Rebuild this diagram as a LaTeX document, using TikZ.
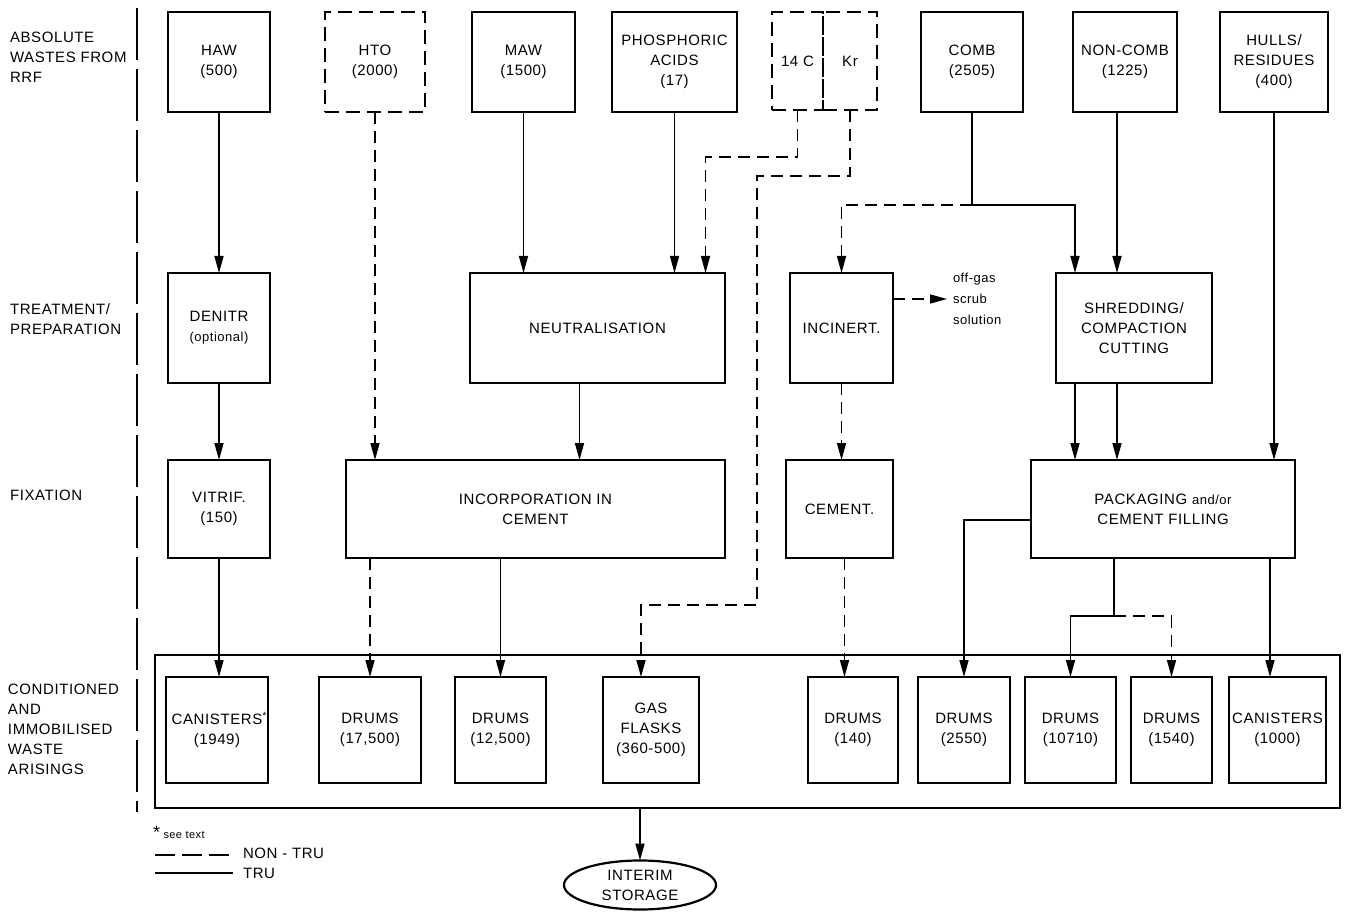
\documentclass[tikz,border=0pt]{standalone}
\usepackage{fontspec}
\setmainfont{Liberation Sans}[LetterSpace=4]
\usetikzlibrary{arrows.meta,shapes.geometric}

\begin{document}
\begin{tikzpicture}[x=1pt, y=-1pt, >={Triangle[length=17pt,width=9pt]},
    every node/.style={font=\fontsize{15}{20}\selectfont, inner sep=0pt, outer sep=0pt},
    box/.style={draw, line width=2.2pt, align=center},
    nbox/.style={box, dash pattern=on 14pt off 7pt},
    lbl/.style={anchor=west, align=left},
    tru/.style={line width=1.6pt},
    ntru/.style={line width=1.6pt, dash pattern=on 12pt off 7pt}]

    \useasboundingbox (0,0) rectangle (1347,912);

    % row labels
    \node[lbl] (labs) at (10,57) {ABSOLUTE\\WASTES FROM\\RRF};
    \node[lbl] (ltreat) at (10,319) {TREATMENT/\\PREPARATION};
    \node[lbl] (lfix) at (10,495) {FIXATION};
    \node[lbl] (lcond) at (8,729) {CONDITIONED\\AND\\IMMOBILISED\\WASTE\\ARISINGS};
    \draw[line width=2.5pt, dash pattern=on 52pt off 9pt] (137,8) -- (137,812);

    % absolute wastes
    \node[box, minimum width=102, minimum height=100] (haw) at (219,62) {HAW\\(500)};
    \node[nbox, minimum width=100, minimum height=100] (hto) at (375,62) {HTO\\(2000)};
    \node[box, minimum width=103, minimum height=100] (maw) at (523.5,62) {MAW\\(1500)};
    \node[box, minimum width=125, minimum height=100] (phos) at (674.5,62) {PHOSPHORIC\\ACIDS\\(17)};
    \node[nbox, minimum width=51, minimum height=98] (c14) at (797.5,61) {14 C};
    \node[nbox, minimum width=54, minimum height=98] (kr) at (850,61) {Kr};
    \node[box, minimum width=102, minimum height=100] (comb) at (972,62) {COMB\\(2505)};
    \node[box, minimum width=104, minimum height=100] (noncomb) at (1125,62) {NON-COMB\\(1225)};
    \node[box, minimum width=108, minimum height=100] (hulls) at (1274,62) {HULLS/\\RESIDUES\\(400)};

    % treatment
    \node[box, minimum width=102, minimum height=110] (denitr) at (219,328)
        {DENITR\\{\fontsize{13}{20}\selectfont(optional)}};
    \node[box, minimum width=255, minimum height=110] (neutr) at (597.5,328) {NEUTRALISATION};
    \node[box, minimum width=103, minimum height=110] (incin) at (841.5,328) {INCINERT.};
    \node[lbl, font=\fontsize{13}{21}\selectfont] (offgas) at (953,299) {off-gas\\scrub\\solution};
    \node[box, minimum width=156, minimum height=110] (shred) at (1134,328) {SHREDDING/\\COMPACTION\\CUTTING};

    % fixation
    \node[box, minimum width=102, minimum height=98] (vitrif) at (219,509) {VITRIF.\\(150)};
    \node[box, minimum width=379, minimum height=98] (incorp) at (535.5,509) {INCORPORATION IN\\CEMENT};
    \node[box, minimum width=107, minimum height=98] (cement) at (839.5,509) {CEMENT.};
    \node[box, minimum width=264, minimum height=98] (pack) at (1163,509)
        {PACKAGING {\fontsize{13}{20}\selectfont and/or}\\CEMENT FILLING};

    % conditioned wastes
    \node[box, minimum width=1185, minimum height=153] (store) at (747.5,731.5) {};
    \node[box, minimum width=102, minimum height=106] (can1) at (217,730) {CANISTERS\rlap{\textsuperscript{*}}\\(1949)};
    \node[box, minimum width=102, minimum height=106] (drA) at (370,730) {DRUMS\\(17,500)};
    \node[box, minimum width=91, minimum height=106] (drB) at (500.5,730) {DRUMS\\(12,500)};
    \node[box, minimum width=96, minimum height=106] (gas) at (651,730) {GAS\\FLASKS\\(360-500)};
    \node[box, minimum width=90, minimum height=106] (drC) at (853,730) {DRUMS\\(140)};
    \node[box, minimum width=92, minimum height=106] (drD) at (964,730) {DRUMS\\(2550)};
    \node[box, minimum width=91, minimum height=106] (drE) at (1070.5,730) {DRUMS\\(10710)};
    \node[box, minimum width=81, minimum height=106] (drF) at (1171.5,730) {DRUMS\\(1540)};
    \node[box, minimum width=97, minimum height=106] (can2) at (1277.5,730) {CANISTERS\\(1000)};

    \node[draw, ellipse, line width=2.2pt, minimum width=152, minimum height=49, align=center]
        (interim) at (640,885) {INTERIM\\STORAGE};

    % legend
    \node[anchor=west, font=\fontsize{11}{13}\selectfont] (seetext) at (153,832) {{\fontsize{18}{18}\selectfont *} see text};
    \node[anchor=west] (lntru) at (243,853) {NON - TRU};
    \node[anchor=west] (ltru) at (243,873) {TRU};
    \draw[line width=2.5pt, dash pattern=on 20pt off 7pt] (155,855) -- ([xshift=-10pt]lntru.west |- 0,855);
    \draw[line width=2.5pt] (155,873) -- ([xshift=-10pt]ltru.west);

    % bends
    \coordinate (nA) at ([xshift=-18pt]neutr.south);
    \coordinate (nB) at ([xshift=108pt]neutr.north);
    \coordinate (cj) at ([yshift=-93pt]comb.south);
    \coordinate (sA) at ([xshift=-59pt]shred.north);
    \coordinate (nc) at ([xshift=-8pt]noncomb.south);
    \coordinate (gin) at ([xshift=-10pt]gas.north);
    \coordinate (kb) at (757,605);
    \coordinate (cA) at ([xshift=5pt]cement.south);
    \coordinate (pA) at ([xshift=-49pt]pack.south);
    \coordinate (pj) at ([xshift=-49pt,yshift=-58pt]pack.south);
    \coordinate (pw) at ([yshift=-11pt]pack.west);
    \coordinate (pe) at ([xshift=107pt]pack.south);

    \draw[tru,->] (haw.south) -- (denitr.north);
    \draw[tru,->] (denitr.south) -- (vitrif.north);
    \draw[tru,->] (vitrif.south) -- (vitrif.south |- can1.north);
    \draw[ntru,->] (hto.south) -- (hto.south |- incorp.north);
    \draw[tru,->] (maw.south) -- (maw.south |- neutr.north);
    \draw[tru,->] (phos.south) -- (phos.south |- neutr.north);
    \draw[ntru,->] (c14.south) -- ++(0,47) -| (nB);
    \draw[ntru,->] (kr.south) -- ++(0,66) -| (kb) -| (gin);
    \draw[tru,->] (nA) -- (nA |- incorp.north);
    \draw[ntru,->] (drA.north |- incorp.south) -- (drA.north);
    \draw[tru,->] (drB.north |- incorp.south) -- (drB.north);
    \draw[tru] (comb.south) -- (cj);
    \draw[ntru,->] (cj) -| (incin.north);
    \draw[tru,->] (cj) -| (sA);
    \draw[tru,->] (nc) -- (nc |- shred.north);
    \draw[ntru,->] (incin.east |- offgas.west) -- ([xshift=-6pt]offgas.west);
    \draw[ntru,->] (incin.south) -- (incin.south |- cement.north);
    \draw[ntru,->] (cA) -- (cA |- drC.north);
    \draw[tru,->] (sA |- shred.south) -- (sA |- pack.north);
    \draw[tru,->] (nc |- shred.south) -- (nc |- pack.north);
    \draw[tru,->] (hulls.south) -- (hulls.south |- pack.north);
    \draw[tru,->] (pw) -| (drD.north);
    \draw[tru] (pA) -- (pj);
    \draw[tru,->] (pj) -| (drE.north);
    \draw[ntru,->] (pj) -| (drF.north);
    \draw[tru,->] (pe) -- (pe |- can2.north);
    \draw[tru,->] (store.south -| interim.north) -- (interim.north);
\end{tikzpicture}
\end{document}
